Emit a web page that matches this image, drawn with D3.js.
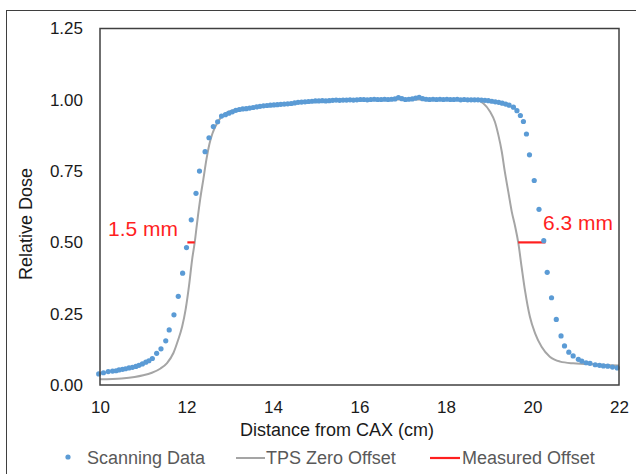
<!DOCTYPE html>
<html>
<head>
<meta charset="utf-8">
<script src="https://cdn.jsdelivr.net/npm/d3@7"></script>
<style>
	body { margin: 0; background: #fff; }
	svg { display: block; font-family: "Liberation Sans", Arial, sans-serif; }
</style>
</head>
<body>
<div id="graph"></div>
<script>
// scanning data, [distance cm, relative dose]
var scanningData = [
	[9.97,0.039],[10.08,0.043],[10.19,0.047],[10.29,0.049],[10.37,0.050],[10.44,0.053],
	[10.52,0.055],[10.59,0.057],[10.67,0.060],[10.75,0.062],[10.83,0.065],[10.90,0.069],
	[10.98,0.074],[11.06,0.080],[11.13,0.085],[11.21,0.093],[11.31,0.111],[11.41,0.127],
	[11.52,0.155],[11.60,0.193],[11.71,0.246],[11.81,0.311],[11.91,0.392],[12.00,0.482],
	[12.11,0.579],[12.22,0.672],[12.30,0.750],[12.43,0.818],[12.52,0.867],[12.62,0.906],
	[12.72,0.923],[12.81,0.943],[12.90,0.948],[12.98,0.953],[13.06,0.958],[13.14,0.963],
	[13.22,0.966],[13.30,0.968],[13.38,0.969],[13.46,0.971],[13.54,0.973],[13.62,0.975],
	[13.70,0.977],[13.78,0.979],[13.86,0.980],[13.94,0.981],[14.02,0.982],[14.10,0.983],
	[14.18,0.984],[14.26,0.985],[14.34,0.986],[14.42,0.987],[14.50,0.989],[14.58,0.991],
	[14.66,0.992],[14.74,0.993],[14.82,0.994],[14.90,0.995],[14.98,0.996],[15.06,0.996],
	[15.14,0.997],[15.22,0.996],[15.30,0.997],[15.38,0.998],[15.46,0.999],[15.54,0.998],
	[15.62,0.999],[15.70,0.999],[15.78,1.000],[15.86,0.999],[15.94,1.000],[16.02,1.001],
	[16.10,1.001],[16.18,1.000],[16.26,1.001],[16.34,1.002],[16.42,1.001],[16.50,1.001],
	[16.58,1.002],[16.66,1.001],[16.74,1.002],[16.82,1.003],[16.90,1.008],[16.98,1.004],
	[17.06,1.001],[17.14,1.002],[17.22,1.003],[17.30,1.006],[17.38,1.009],[17.46,1.004],
	[17.54,1.002],[17.62,1.001],[17.70,1.002],[17.78,1.001],[17.86,1.002],[17.94,1.001],
	[18.02,1.002],[18.10,1.001],[18.18,1.001],[18.26,1.002],[18.34,1.000],[18.42,1.001],
	[18.50,1.000],[18.58,1.000],[18.66,1.000],[18.74,1.000],[18.82,0.999],[18.90,0.998],
	[18.98,0.997],[19.06,0.995],[19.14,0.993],[19.22,0.991],[19.30,0.988],[19.38,0.985],
	[19.46,0.981],[19.56,0.974],[19.64,0.962],[19.72,0.945],[19.79,0.924],[19.86,0.880],
	[19.93,0.807],[20.04,0.717],[20.15,0.616],[20.26,0.506],[20.34,0.395],[20.44,0.306],
	[20.55,0.230],[20.66,0.172],[20.74,0.137],[20.84,0.115],[20.94,0.102],[21.06,0.090],
	[21.14,0.084],[21.24,0.078],[21.33,0.076],[21.45,0.071],[21.55,0.069],[21.64,0.067],
	[21.74,0.066],[21.85,0.063],[21.96,0.060]
];

// TPS calculated profile (zero offset)
var tpsProfile = [
	[10.00,0.020],[10.50,0.023],[10.80,0.028],[11.00,0.034],[11.20,0.043],[11.40,0.058],
	[11.55,0.077],[11.70,0.113],[11.80,0.155],[11.90,0.205],[11.98,0.265],[12.06,0.350],
	[12.13,0.440],[12.19,0.500],[12.25,0.575],[12.32,0.655],[12.39,0.722],[12.46,0.790],
	[12.53,0.845],[12.60,0.882],[12.68,0.910],[12.78,0.935],[12.90,0.952],[13.05,0.962],
	[13.30,0.970],[13.60,0.975],[14.00,0.982],[14.50,0.989],[15.00,0.995],[15.50,0.998],
	[16.00,1.000],[17.00,1.001],[18.00,1.000],[18.50,0.999],[18.71,0.998],[18.86,0.988],
	[19.02,0.958],[19.13,0.923],[19.21,0.877],[19.29,0.818],[19.36,0.748],[19.44,0.678],
	[19.52,0.608],[19.60,0.555],[19.67,0.500],[19.75,0.412],[19.83,0.328],[19.94,0.239],
	[20.06,0.181],[20.21,0.134],[20.40,0.099],[20.64,0.082],[20.94,0.076],[21.20,0.074],
	[21.60,0.071],[22.00,0.068]
];

// measured offsets at 50% dose
var offsetNames = ["1.5 mm", "6.3 mm"];
var offsetStart = [12.02, 19.67];
var offsetEnd = [12.19, 20.30];
var offsetDose = [0.5, 0.5];

var xTicks = [10, 12, 14, 16, 18, 20, 22];
var yTicks = [0, 0.25, 0.5, 0.75, 1.0, 1.25];
var legendNames = ["Scanning Data", "TPS Zero Offset", "Measured Offset"];

var w = 636, h = 474;
var plot = {left: 100, top: 28.5, right: 619, bottom: 385};

var svg = d3.select("#graph").append("svg")
	.attr("width", w).attr("height", h);

// outer frame, runs off the right and bottom of the picture
svg.append("rect").attr("x", 6.5).attr("y", 10.5)
	.attr("width", w + 20).attr("height", h + 20)
	.attr("fill", "none").attr("stroke", "#3f3f3f").attr("stroke-width", 1);

var x = d3.scaleLinear().domain([10, 22]).range([plot.left, plot.right]);
var y = d3.scaleLinear().domain([0, 1.25]).range([plot.bottom, plot.top]);

var xAxis = svg.append("g")
	.attr("transform", "translate(0," + plot.bottom + ")")
	.call(d3.axisBottom(x).tickValues(xTicks).tickSize(0).tickPadding(16)
		.tickFormat(d3.format("d")));
var yAxis = svg.append("g")
	.attr("transform", "translate(" + plot.left + ",0)")
	.call(d3.axisLeft(y).tickValues(yTicks).tickSize(0).tickPadding(17)
		.tickFormat(d3.format(".2f")));
[xAxis, yAxis].forEach(function (ax) {
	ax.select(".domain").remove();
	ax.selectAll("text").attr("font-size", 17).attr("fill", "#1a1a1a")
		.attr("font-family", "Liberation Sans, Arial, sans-serif");
});

// TPS line
var line = d3.line()
	.x(function (d) { return x(d[0]); })
	.y(function (d) { return y(d[1]); })
	.curve(d3.curveMonotoneX);
svg.append("path").datum(tpsProfile)
	.attr("d", line).attr("fill", "none")
	.attr("stroke", "#a5a5a5").attr("stroke-width", 2);

// red offset markers
offsetNames.forEach(function (name, i) {
	svg.append("line")
		.attr("x1", x(offsetStart[i])).attr("x2", x(offsetEnd[i]))
		.attr("y1", y(offsetDose[i])).attr("y2", y(offsetDose[i]))
		.attr("stroke", "#ff1f1f").attr("stroke-width", 2.2);
});
svg.append("text").text(offsetNames[0])
	.attr("x", 108).attr("y", 236).attr("font-size", 21).attr("fill", "#ff1f1f");
svg.append("text").text(offsetNames[1])
	.attr("x", 543).attr("y", 230).attr("font-size", 21).attr("fill", "#ff1f1f");

// scanning points
svg.selectAll("circle.scan").data(scanningData).enter().append("circle")
	.attr("class", "scan")
	.attr("cx", function (d) { return x(d[0]); })
	.attr("cy", function (d) { return y(d[1]); })
	.attr("r", 2.6).attr("fill", "#5b9bd5");

// plot border
svg.append("rect").attr("x", plot.left).attr("y", plot.top)
	.attr("width", plot.right - plot.left).attr("height", plot.bottom - plot.top)
	.attr("fill", "none").attr("stroke", "#404040").attr("stroke-width", 1.5);

// axis titles
svg.append("text").text("Distance from CAX (cm)")
	.attr("x", 337).attr("y", 436).attr("text-anchor", "middle")
	.attr("font-size", 18).attr("fill", "#1a1a1a");
svg.append("text").text("Relative Dose")
	.attr("transform", "translate(32,224) rotate(-90)")
	.attr("text-anchor", "middle").attr("font-size", 18).attr("fill", "#1a1a1a");

// legend
var lg = svg.append("g").attr("font-size", 18).attr("fill", "#595959");
lg.append("circle").attr("cx", 68).attr("cy", 457).attr("r", 2.6).attr("fill", "#5b9bd5");
lg.append("text").text(legendNames[0]).attr("x", 87).attr("y", 463.5);
lg.append("line").attr("x1", 236).attr("x2", 265).attr("y1", 458).attr("y2", 458)
	.attr("stroke", "#a5a5a5").attr("stroke-width", 2);
lg.append("text").text(legendNames[1]).attr("x", 266).attr("y", 463.5);
lg.append("line").attr("x1", 430).attr("x2", 460).attr("y1", 458).attr("y2", 458)
	.attr("stroke", "#ff1f1f").attr("stroke-width", 2.2);
lg.append("text").text(legendNames[2]).attr("x", 462).attr("y", 463.5);
</script>
</body>
</html>
